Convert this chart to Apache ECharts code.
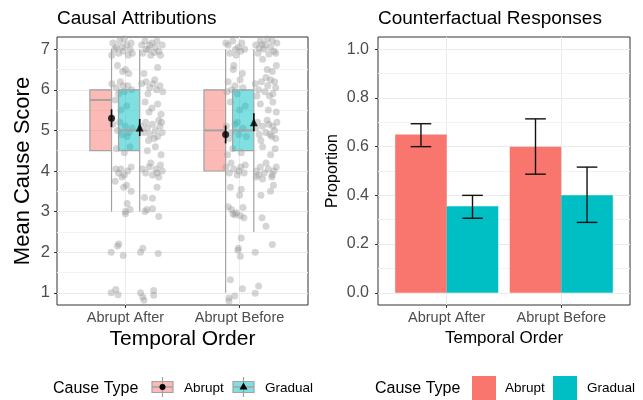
<!DOCTYPE html>
<html><head><meta charset="utf-8">
<script src="https://cdn.jsdelivr.net/npm/echarts@6/dist/echarts.min.js"></script>
<style>html,body{margin:0;padding:0;background:#fff}#c{width:643px;height:400px}</style>
</head><body><div id="c"></div><script>
// ---------------- data ----------------
const categories = ['Abrupt After', 'Abrupt Before'];
const causeTypes = ['Abrupt', 'Gradual'];
// box stats per category: [lower whisker, q1, median, q3, upper whisker]
const boxAbrupt = [[3, 4.5, 5.75, 6, 7], [1, 4, 5, 6, 7]];
const boxGradual = [[3, 4.5, 5, 6, 7], [2.5, 4.5, 5, 6, 7]];
const meanAbrupt = [5.30, 4.90];
const seAbrupt = [0.22, 0.22];
const meanGradual = [5.07, 5.20];
const seGradual = [0.21, 0.22];
// counterfactual proportions
const propAbrupt = [0.65, 0.60];
const propAbruptLo = [0.60, 0.487];
const propAbruptHi = [0.694, 0.714];
const propGradual = [0.355, 0.40];
const propGradualLo = [0.306, 0.289];
const propGradualHi = [0.40, 0.516];
// jittered raw scores: [horizontal jitter (-1..1), score]
const ptsAfterAbrupt = [[-0.8,7.15],[-0.5,7.05],[-0.2,7.2],[0.1,6.95],[0.4,7.1],[0.7,7.0],[0.9,6.9],[-0.9,6.85],[-0.3,6.9],[0.2,7.25],[0.55,6.85],[-0.65,7.0],[0.0,7.05],[0.8,7.15],
[-0.4,6.6],[0.3,6.5],[0.05,6.45],[0.6,6.4],[-0.15,6.2],[-0.9,6.15],[-0.5,6.05],[0.2,5.95],[0.5,6.1],[0.85,6.0],[-0.3,5.9],[0.1,6.1],
[-0.6,5.75],[0.4,5.6],[-0.1,5.5],[-0.8,5.15],[-0.4,5.0],[0.0,4.9],[0.3,5.1],[0.6,4.95],[0.9,5.05],[-0.2,5.2],[0.45,4.85],
[-0.5,4.55],[0.2,4.45],[0.7,4.6],[-0.55,4.05],[-0.3,3.95],[-0.1,4.05],[0.2,3.9],[0.5,4.0],[0.8,4.1],[0.0,3.85],
[0.15,3.6],[0.8,3.5],[0.4,3.65],[-0.6,3.75],[0.3,3.0],[0.3,2.95],[0.45,3.2],[0.7,3.05],
[-0.95,2.0],[-0.4,2.15],[-0.28,2.2],[0.1,1.92],[-0.95,1.0],[-0.55,1.08],[-0.35,0.95]];
const ptsAfterGradual = [[-0.9,7.1],[-0.6,7.2],[-0.3,7.0],[0.0,7.15],[0.3,7.05],[0.6,6.95],[0.9,7.1],[-0.8,6.9],[-0.1,6.85],[0.45,7.2],[0.75,6.85],[-0.5,7.0],[0.2,6.92],[-0.2,7.1],
[0.5,6.55],[-0.7,6.4],[-0.9,6.15],[-0.5,6.2],[-0.2,6.05],[0.1,6.15],[0.4,6.0],[0.7,6.1],[0.95,5.95],[-0.35,5.9],[0.25,6.25],
[-0.6,5.7],[0.0,5.55],[0.5,5.65],[0.8,5.4],[-0.25,5.45],
[-0.95,5.1],[-0.7,4.95],[-0.4,5.05],[-0.15,4.9],[0.05,5.15],[0.3,5.0],[0.5,4.85],[0.7,5.1],[0.9,4.95],[-0.55,5.2],[0.2,4.8],[0.6,5.25],[-0.3,4.75],[0.85,5.2],
[-0.4,4.5],[0.3,4.6],[0.8,4.4],[-0.85,4.05],[-0.55,3.95],[-0.25,4.1],[0.05,3.9],[0.35,4.05],[0.6,3.85],[0.9,4.0],[-0.1,4.2],[0.45,3.95],[0.75,4.15],
[0.45,3.6],[0.05,3.33],[-0.65,3.35],[-0.6,3.0],[-0.45,3.05],[0.05,3.07],[0.6,2.88],
[-1.0,2.0],[-0.8,2.1],[0.55,1.97],[-1.0,1.0],[-0.8,0.9],[-0.7,0.82],[0.15,1.06],[0.15,0.94]];
const ptsBeforeAbrupt = [[-0.7,7.1],[-0.3,7.2],[-0.05,7.0],[0.4,6.95],[-0.55,6.9],[0.2,7.05],[0.75,7.0],[-0.9,7.15],[0.5,7.15],[0.0,6.85],
[-0.2,6.6],[-0.25,6.5],[0.55,6.4],[-0.7,6.2],[-0.1,6.1],[0.35,6.25],[-0.8,5.95],[0.1,5.9],[0.6,6.05],[-0.4,6.0],
[-0.5,5.7],[0.3,5.5],[0.8,5.6],[-0.85,5.1],[-0.45,4.95],[-0.1,5.15],[0.25,4.9],[0.6,5.05],[0.9,4.85],[-0.6,4.8],[0.1,5.2],
[-0.3,4.55],[0.45,4.45],[-0.75,4.4],[-0.9,4.1],[-0.6,3.95],[-0.2,4.05],[0.1,3.9],[0.4,4.1],[0.7,3.95],[-0.45,4.2],[0.25,4.0],[0.8,4.15],
[-0.5,3.6],[0.3,3.4],[0.45,3.55],[-0.7,3.12],[-0.4,3.05],[-0.27,2.95],[0.02,2.97],[0.37,2.9],[0.6,3.1],[0.68,2.85],[-0.1,2.92],
[0.45,2.35],[0.15,2.05],[0.2,2.1],[0.37,1.9],[-0.5,1.32],[0.55,1.1],[-0.63,0.87],[-0.13,0.92],[-0.63,0.8]];
const ptsBeforeGradual = [[-0.9,7.1],[-0.5,7.2],[-0.2,7.0],[0.1,7.25],[0.4,7.05],[0.7,6.95],[0.95,7.15],[-0.7,6.9],[0.25,6.88],[-0.35,7.12],[0.55,7.2],[0.85,6.9],[-0.05,7.1],[-0.6,7.02],
[-0.3,6.75],[0.1,6.5],[0.55,6.45],[0.9,6.6],[-0.95,6.15],[-0.65,6.0],[-0.4,6.2],[-0.1,5.95],[0.15,6.1],[0.4,6.25],[0.6,5.9],[0.85,6.05],[-0.8,5.85],[0.0,6.3],[0.3,5.85],[0.75,6.2],
[-0.5,5.65],[0.2,5.5],[0.6,5.7],[0.9,5.45],[-0.9,5.05],[-0.6,4.9],[-0.3,5.1],[0.0,4.95],[0.25,5.15],[0.5,4.85],[0.75,5.0],[0.95,5.2],[-0.45,4.75],[0.1,5.25],[0.6,5.1],[-0.75,5.2],[0.35,4.9],[0.85,4.8],
[-0.3,4.6],[0.4,4.4],[0.8,4.55],[-0.85,4.0],[-0.5,4.1],[-0.15,3.95],[0.2,4.05],[0.55,3.9],[0.9,4.1],[0.0,4.2],[0.7,4.0],[-0.65,3.9],
[-0.85,3.85],[-0.3,3.8],[0.5,3.85],[0.65,3.65],[0.4,3.5],[-0.45,3.4],[-0.35,2.85],[0.0,2.64],[0.55,2.19],[-0.95,2.0],[-0.65,1.17],[-0.95,0.99]];

// ---------------- layout ----------------
const FONT = "'Liberation Sans', Arial, Helvetica, sans-serif";
const RED = '#F8766D', TEAL = '#00BFC4';
const L = {left: 57, top: 37, width: 251, height: 268};
const R = {left: 378, top: 37, width: 252, height: 268};
const XMIN = 0.4, XMAX = 2.6;
const LY = [0.7, 7.3], RY = [-0.05, 1.05];
function subGridY(P, ext, lo, hi) {
  const h = P.height / (ext[1] - ext[0]);
  return {left: P.left, width: P.width, top: P.top + (ext[1] - hi) * h, height: (hi - lo) * h};
}
function subGridX(P) {
  const w = P.width / (XMAX - XMIN);
  return {left: P.left + (1 - XMIN) * w, width: w, top: P.top, height: P.height};
}
const BOX_OFF = [[-0.312, -0.122], [-0.061, 0.125]];
const WHISK = [-0.122, 0.125];
const JIT_C = [-0.03, 0.232], JIT_W = 0.1;
const BAR_W = 0.45, CAP = 0.09;

const chart = echarts.init(document.getElementById('c'), null, {renderer: 'canvas'});
const tickLabel = {color: '#4d4d4d', fontFamily: FONT};
const gridLine = {color: '#ebebeb', width: 1};
const minorLine = {color: '#f3f3f3', width: 1};

function yLabelAxis(gi, min, max, interval, fs, margin, fmt) {
  return {type: 'value', gridIndex: gi, min, max, interval,
    axisLine: {show: false}, axisTick: {show: true, length: 3, lineStyle: {color: '#333', width: 1}},
    axisLabel: Object.assign({fontSize: fs, margin, formatter: fmt}, tickLabel),
    splitLine: {show: true, lineStyle: gridLine},
    minorTick: {show: false, splitNumber: 2}, minorSplitLine: {show: true, lineStyle: minorLine}};
}
function xLabelAxis(gi) {
  return {type: 'value', gridIndex: gi, min: 1, max: 2, interval: 1,
    axisLine: {show: false}, axisTick: {show: true, length: 3, lineStyle: {color: '#333', width: 1}},
    axisLabel: Object.assign({fontSize: 14.5, margin: 5, formatter: v => categories[v - 1]}, tickLabel),
    splitLine: {show: true, lineStyle: gridLine}};
}
const hidden = (gi, min, max) => ({type: 'value', gridIndex: gi, min, max, show: false, splitLine: {show: false}});

const grids = [
  Object.assign({show: true, borderColor: '#333', borderWidth: 1, backgroundColor: 'transparent'}, L),
  subGridY(L, LY, 1, 7), subGridX(L),
  Object.assign({show: true, borderColor: '#333', borderWidth: 1, backgroundColor: 'transparent'}, R),
  subGridY(R, RY, 0, 1), subGridX(R)
];

// build series data
const jitterSets = [[ptsAfterAbrupt, ptsAfterGradual], [ptsBeforeAbrupt, ptsBeforeGradual]];
const scatterData = [];
jitterSets.forEach((pair, ci) => pair.forEach((pts, ti) => pts.forEach(p => {
  scatterData.push([ci + 1 + JIT_C[ti] + p[0] * JIT_W, p[1]]);
})));
const boxData = [];
[boxAbrupt, boxGradual].forEach((b, ti) => b.forEach((s, ci) => boxData.push([ci + 1, s[0], s[1], s[2], s[3], s[4], ti])));
const meanSets = [[meanAbrupt, seAbrupt], [meanGradual, seGradual]];
const meanData = [[], []], errData = [];
meanSets.forEach((ms, ti) => ms[0].forEach((m, ci) => {
  meanData[ti].push([ci + 1 + WHISK[ti], m]);
  errData.push([ci + 1 + WHISK[ti], m - ms[1][ci], m + ms[1][ci]]);
}));
const barData = [], barErr = [];
[[propAbrupt, propAbruptLo, propAbruptHi], [propGradual, propGradualLo, propGradualHi]].forEach((ps, ti) => ps[0].forEach((v, ci) => {
  barData.push([ci + 1, v, ti]);
  barErr.push([ci + 1 + (ti === 0 ? -BAR_W / 2 : BAR_W / 2), ps[1][ci], ps[2][ci]]);
}));

const boxFill = ['rgba(248,118,109,0.5)', 'rgba(0,191,196,0.5)'];
const boxStroke = '#a3a3a3';

const option = {
  animation: false,
  grid: grids,
  xAxis: [hidden(0, XMIN, XMAX), hidden(1, 0, 1), xLabelAxis(2), hidden(3, XMIN, XMAX), hidden(4, 0, 1), xLabelAxis(5)],
  yAxis: [hidden(0, LY[0], LY[1]), yLabelAxis(1, 1, 7, 1, 16.5, 7, v => String(v)), hidden(2, 0, 1),
          hidden(3, RY[0], RY[1]), yLabelAxis(4, 0, 1, 0.2, 16, 9, v => v.toFixed(1)), hidden(5, 0, 1)],
  series: [
    {type: 'scatter', xAxisIndex: 0, yAxisIndex: 0, data: scatterData, symbol: 'circle', symbolSize: 7,
      itemStyle: {color: 'rgba(150,150,150,0.5)'}, silent: true, z: 2},
    {type: 'custom', xAxisIndex: 0, yAxisIndex: 0, data: boxData, z: 3, silent: true,
      renderItem(params, api) {
        const c = api.value(0), t = api.value(6);
        const lo = api.value(1), q1 = api.value(2), md = api.value(3), q3 = api.value(4), hi = api.value(5);
        const p0 = api.coord([c + BOX_OFF[t][0], q3]), p1 = api.coord([c + BOX_OFF[t][1], q1]);
        const wx = api.coord([c + WHISK[t], 0])[0];
        const yHi = api.coord([c, hi])[1], yLo = api.coord([c, lo])[1], yMd = api.coord([c, md])[1];
        const ls = {stroke: boxStroke, lineWidth: 1.2};
        return {type: 'group', children: [
          {type: 'line', shape: {x1: wx, y1: yHi, x2: wx, y2: p0[1]}, style: ls},
          {type: 'line', shape: {x1: wx, y1: p1[1], x2: wx, y2: yLo}, style: ls},
          {type: 'rect', shape: {x: p0[0], y: p0[1], width: p1[0] - p0[0], height: p1[1] - p0[1]},
            style: {fill: boxFill[t], stroke: boxStroke, lineWidth: 1.2}},
          {type: 'line', shape: {x1: p0[0], y1: yMd, x2: p1[0], y2: yMd}, style: {stroke: boxStroke, lineWidth: 2}}
        ]};
      }},
    {type: 'custom', xAxisIndex: 0, yAxisIndex: 0, data: errData, z: 4, silent: true,
      renderItem(params, api) {
        const a = api.coord([api.value(0), api.value(1)]), b = api.coord([api.value(0), api.value(2)]);
        return {type: 'line', shape: {x1: a[0], y1: a[1], x2: b[0], y2: b[1]}, style: {stroke: '#000', lineWidth: 1.6}};
      }},
    {type: 'scatter', xAxisIndex: 0, yAxisIndex: 0, data: meanData[0], symbol: 'circle', symbolSize: 7,
      itemStyle: {color: '#000'}, z: 5, silent: true},
    {type: 'scatter', xAxisIndex: 0, yAxisIndex: 0, data: meanData[1], symbol: 'triangle', symbolSize: 8,
      itemStyle: {color: '#000'}, z: 5, silent: true},
    {type: 'custom', xAxisIndex: 3, yAxisIndex: 3, data: barData, z: 3, silent: true,
      renderItem(params, api) {
        const c = api.value(0), v = api.value(1), t = api.value(2);
        const a = api.coord([t === 0 ? c - BAR_W : c, v]), b = api.coord([t === 0 ? c : c + BAR_W, 0]);
        return {type: 'rect', shape: {x: a[0], y: a[1], width: b[0] - a[0], height: b[1] - a[1]}, style: {fill: t === 0 ? RED : TEAL}};
      }},
    {type: 'custom', xAxisIndex: 3, yAxisIndex: 3, data: barErr, z: 4, silent: true,
      renderItem(params, api) {
        const x = api.value(0);
        const a = api.coord([x - CAP, api.value(1)]), b = api.coord([x + CAP, api.value(2)]);
        const xm = (a[0] + b[0]) / 2, st = {stroke: '#111', lineWidth: 1.4};
        return {type: 'group', children: [
          {type: 'line', shape: {x1: xm, y1: a[1], x2: xm, y2: b[1]}, style: st},
          {type: 'line', shape: {x1: a[0], y1: a[1], x2: b[0], y2: a[1]}, style: st},
          {type: 'line', shape: {x1: a[0], y1: b[1], x2: b[0], y2: b[1]}, style: st}
        ]};
      }}
  ],
  graphic: [
    {type: 'text', x: 57, y: 19, style: {text: 'Causal Attributions', font: `19px ${FONT}`, fill: '#000', verticalAlign: 'middle'}},
    {type: 'text', x: 378, y: 19, style: {text: 'Counterfactual Responses', font: `19px ${FONT}`, fill: '#000', verticalAlign: 'middle'}},
    {type: 'text', x: L.left + L.width / 2, y: 339, style: {text: 'Temporal Order', font: `21px ${FONT}`, fill: '#000', align: 'center', verticalAlign: 'middle'}},
    {type: 'text', x: R.left + R.width / 2, y: 338, style: {text: 'Temporal Order', font: `17px ${FONT}`, fill: '#000', align: 'center', verticalAlign: 'middle'}},
    {type: 'text', x: 23, y: L.top + L.height / 2, rotation: Math.PI / 2, style: {text: 'Mean Cause Score', font: `22px ${FONT}`, fill: '#000', align: 'center', verticalAlign: 'middle'}},
    {type: 'text', x: 333, y: R.top + R.height / 2, rotation: Math.PI / 2, style: {text: 'Proportion', font: `16px ${FONT}`, fill: '#000', align: 'center', verticalAlign: 'middle'}},
    // left legend
    {type: 'text', x: 53, y: 388.5, style: {text: 'Cause Type', font: `16px ${FONT}`, fill: '#000', verticalAlign: 'middle'}},
    {type: 'line', shape: {x1: 162.5, y1: 377, x2: 162.5, y2: 397}, style: {stroke: boxStroke, lineWidth: 1.2}},
    {type: 'rect', shape: {x: 152, y: 381.5, width: 21, height: 11}, style: {fill: boxFill[0], stroke: boxStroke, lineWidth: 1.2}},
    {type: 'line', shape: {x1: 152, y1: 387, x2: 173, y2: 387}, style: {stroke: boxStroke, lineWidth: 1.5}},
    {type: 'circle', shape: {cx: 162.5, cy: 387, r: 3}, style: {fill: '#000'}},
    {type: 'text', x: 184, y: 388.5, style: {text: causeTypes[0], font: `13.5px ${FONT}`, fill: '#000', verticalAlign: 'middle'}},
    {type: 'line', shape: {x1: 243.5, y1: 377, x2: 243.5, y2: 397}, style: {stroke: boxStroke, lineWidth: 1.2}},
    {type: 'rect', shape: {x: 233, y: 381.5, width: 21, height: 11}, style: {fill: boxFill[1], stroke: boxStroke, lineWidth: 1.2}},
    {type: 'line', shape: {x1: 233, y1: 387, x2: 254, y2: 387}, style: {stroke: boxStroke, lineWidth: 1.5}},
    {type: 'polygon', shape: {points: [[243.5, 382.5], [239.5, 389.5], [247.5, 389.5]]}, style: {fill: '#000'}},
    {type: 'text', x: 265, y: 388.5, style: {text: causeTypes[1], font: `13.5px ${FONT}`, fill: '#000', verticalAlign: 'middle'}},
    // right legend
    {type: 'text', x: 375, y: 388.5, style: {text: 'Cause Type', font: `16px ${FONT}`, fill: '#000', verticalAlign: 'middle'}},
    {type: 'rect', shape: {x: 472, y: 376, width: 24, height: 24}, style: {fill: RED}},
    {type: 'text', x: 505, y: 388.5, style: {text: causeTypes[0], font: `13.5px ${FONT}`, fill: '#000', verticalAlign: 'middle'}},
    {type: 'rect', shape: {x: 553, y: 376, width: 24, height: 24}, style: {fill: TEAL}},
    {type: 'text', x: 587, y: 388.5, style: {text: causeTypes[1], font: `13.5px ${FONT}`, fill: '#000', verticalAlign: 'middle'}}
  ]
};
chart.setOption(option);
</script></body></html>
